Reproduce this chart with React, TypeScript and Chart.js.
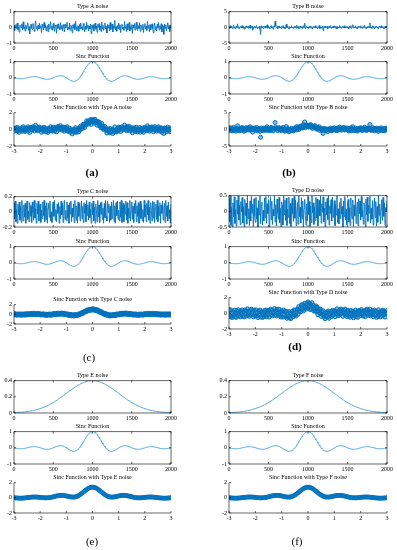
import React, { useEffect, useRef } from 'react';
import { Chart, registerables } from 'chart.js';

Chart.register(...registerables);

// ---------- data ----------
const TIME_MAX = 2000;
const TIME_TICKS_STEP = 500;
const X3_MIN = -3;
const X3_MAX = 3;
const X3_STEP = 1;

// sinc function, 241 samples across the window (x = -3 .. 3)
const SINC = [
  0, -.008, -.017, -.025, -.032, -.039, -.045, -.05, -.054, -.057,
  -.058, -.058, -.056, -.053, -.049, -.043, -.036, -.028, -.019, -.01,
  0, .01, .02, .03, .039, .047, .055, .061, .066, .069,
  .071, .071, .069, .065, .06, .053, .045, .035, .024, .012,
  0, -.013, -.025, -.038, -.049, -.06, -.07, -.078, -.084, -.089,
  -.091, -.091, -.089, -.085, -.078, -.069, -.059, -.046, -.032, -.016,
  0, .017, .034, .051, .067, .082, .095, .107, .116, .123,
  .127, .128, .126, .121, .112, .1, .085, .067, .047, .024,
  0, -.026, -.052, -.078, -.104, -.129, -.152, -.172, -.189, -.203,
  -.212, -.217, -.216, -.21, -.198, -.18, -.156, -.126, -.089, -.047,
  0, .052, .109, .17, .234, .3, .368, .436, .505, .572,
  .637, .699, .757, .81, .858, .9, .936, .963, .984, .996,
  1,
  .996, .984, .963, .936, .9, .858, .81, .757, .699, .637,
  .572, .505, .436, .368, .3, .234, .17, .109, .052, 0,
  -.047, -.089, -.126, -.156, -.18, -.198, -.21, -.216, -.217, -.212,
  -.203, -.189, -.172, -.152, -.129, -.104, -.078, -.052, -.026, 0,
  .024, .047, .067, .085, .1, .112, .121, .126, .128, .127,
  .123, .116, .107, .095, .082, .067, .051, .034, .017, 0,
  -.016, -.032, -.046, -.059, -.069, -.078, -.085, -.089, -.091, -.091,
  -.089, -.084, -.078, -.07, -.06, -.049, -.038, -.025, -.013, 0,
  .012, .024, .035, .045, .053, .06, .065, .069, .071, .071,
  .069, .066, .061, .055, .047, .039, .03, .02, .01, 0,
  -.01, -.019, -.028, -.036, -.043, -.049, -.053, -.056, -.058, -.058,
  -.057, -.054, -.05, -.045, -.039, -.032, -.025, -.017, -.008, 0,
];

// Type E / F noise (bell curve), 121 samples
const GAUSS = [
  .004, .005, .006, .007, .008, .009, .010, .012, .014, .015,
  .018, .020, .022, .025, .028, .032, .036, .040, .044, .049,
  .054, .060, .066, .072, .079, .086, .094, .102, .111, .120,
  .130, .139, .150, .160, .171, .183, .194, .206, .218, .230,
  .242, .254, .266, .278, .290, .301, .312, .323, .333, .343,
  .352, .361, .368, .375, .381, .387, .391, .395, .397, .398,
  .399,
  .398, .397, .395, .391, .387, .381, .375, .368, .361, .352,
  .343, .333, .323, .312, .301, .290, .278, .266, .254, .242,
  .230, .218, .206, .194, .183, .171, .160, .150, .139, .130,
  .120, .111, .102, .094, .086, .079, .072, .066, .060, .054,
  .049, .044, .040, .036, .032, .028, .025, .022, .020, .018,
  .015, .014, .012, .010, .009, .008, .007, .006, .005, .004,
];

// Types A-D noise, 241 samples each
const NOISE_A = [
  .12, -.21, .05, .18, -.09, .27, -.15, .02, -.31, .14,
  .08, -.04, .22, -.18, .35, -.07, .01, -.24, .16, -.12,
  .09, .29, -.19, .04, -.42, .11, .19, -.06, -.14, .24,
  .03, -.27, .13, .41, -.08, .06, -.2, .15, -.11, .26,
  -.03, .1, -.33, .2, .07, -.16, .31, -.05, .17, -.23,
  0, .12, -.28, .21, -.1, .05, .36, -.13, .08, -.19,
  .25, -.02, -.26, .14, .06, -.38, .18, -.07, .23, .02,
  -.15, .3, -.09, .11, -.22, .17, .04, -.3, .2, -.04,
  .09, .33, -.17, .01, -.12, .27, -.2, .13, .05, -.35,
  .16, -.06, .22, -.14, .39, -.01, -.21, .1, .07, -.25,
  .19, -.1, .28, -.08, .03, -.18, .24, .12, -.29, .06,
  -.13, .32, -.05, .15, -.23, .08, -.11, .21, -.4, .14,
  -.07, .17, -.24, .04, .26, -.12, .09, -.32, .18, -.01,
  .23, -.16, .07, -.27, .34, -.09, .13, -.2, .02, .28,
  -.11, .05, -.36, .19, -.04, .15, -.22, .31, -.14, .08,
  .21, -.3, .1, -.06, .44, -.17, .03, -.25, .12, -.08,
  .27, -.13, .16, -.34, .06, .2, -.1, .01, -.19, .37,
  -.05, .11, -.28, .22, -.15, .09, .3, -.23, .04, -.12,
  .18, -.4, .14, -.03, .25, -.18, .07, .32, -.09, -.21,
  .1, -.07, .29, -.26, .15, .02, -.14, .2, -.33, .06,
  .24, -.11, .08, -.2, .38, -.04, .13, -.29, .17, -.16,
  .03, .22, -.08, -.35, .11, .27, -.13, .05, -.24, .19,
  -.02, .31, -.18, .09, -.1, .23, -.3, .14, .07, -.45,
  .2, -.05, .16, -.22, .04, .29, -.12, .1, -.27, .15,
  -.06,
];

const NOISE_B = [
  .21, -.35, .48, -.12, .3, -.44, .09, .62, -.27, .15,
  -.5, .33, -.08, 1.1, -.31, .19, -.41, .06, .37, -.22,
  .52, -.16, .28, -.6, .11, -.38, .44, -.05, .25, -.29,
  .4, -.18, .7, -.33, .07, .31, -.9, .17, -.1, .36,
  -.24, .13, .55, -.4, .02, -.2, .3, -.55, -2.3, .46,
  -.14, .08, -.36, .42, -.03, .42, -.26, .18, .8, -.3,
  .34, -.09, -.45, .2, .5, -.17, .12, -.6, .29, .04,
  1.9, .39, -.11, .26, -.48, .16, .43, -.21, .07, -.37,
  .31, -.06, .58, -.28, .14, -.43, .22, 1.0, -.19, .35,
  -.04, -.5, .27, .1, -.25, .47, -.15, .05, -.39, .24,
  -.08, .38, -.3, .66, -.13, .19, -.46, .32, -.02, .41,
  -.23, .15, -.34, .53, -.1, 1.3, -.42, .09, .36, -.2,
  .12, -.33, .27, -.07, .45, -.29, .18, -.52, .04, .31,
  -.16, .49, -.24, .11, -.37, .22, -.03, .6, -.44, .16,
  .07, -.28, .35, -1.1, .24, -.12, .41, -.19, .02, .29,
  -.47, .13, .26, -.09, .54, -.31, .08, -.2, .37, -.15,
  .43, -.06, -.35, .19, -.5, .28, .1, -.24, .57, -.11,
  .23, -.4, .05, .34, -.17, .47, -.27, .14, -.03, .39,
  -.21, .09, -.45, .3, -.08, .52, -.36, .2, .85, -.26,
  .16, -.13, .42, -.32, .06, -.49, .25, -.01, .33, -.18,
  .48, -.23, .12, -.38, .27, -.05, .59, -.3, .1, -.42,
  .21, -.15, .36, -.09, 1.4, -.25, .04, -.34, .46, -.12,
  .28, -.47, .17, -.02, .4, -.2, .07, -.56, .32, .13,
  -.27, .5, -.1, .22, -.35, .15, -.43, .26, -.06, .38,
  -.19,
];

const NOISE_C = [
  .12, -.09, .14, -.13, .03, -.15, .1, -.04, .13, -.11,
  .07, -.14, .15, -.02, -.12, .09, -.07, .11, -.15, .05,
  .14, -.1, .01, -.13, .12, -.06, .08, -.14, .13, -.01,
  -.11, .15, -.08, .04, -.15, .11, -.03, .14, -.12, .06,
  .1, -.14, .02, -.09, .13, -.05, .15, -.13, .08, -.1,
  .12, -.15, .05, .11, -.07, .14, -.12, 0, -.14, .09,
  .13, -.06, .15, -.11, .03, -.13, .1, -.02, .12, -.15,
  .07, -.09, .14, -.04, .11, -.14, .06, .15, -.1, .02,
  -.12, .13, -.08, .09, -.15, .12, -.03, .14, -.13, .05,
  -.07, .1, -.14, .15, -.01, -.11, .08, -.15, .13, -.06,
  .11, -.12, .04, .14, -.09, .07, -.14, .12, -.02, .1,
  -.13, .15, -.05, .09, -.11, .13, -.08, .03, -.15, .11,
  -.04, .14, -.12, .06, -.15, .1, .02, -.13, .15, -.07,
  .09, -.14, .12, -.03, .13, -.1, .05, -.15, .11, -.08,
  .15, -.06, -.12, .14, -.01, .1, -.14, .07, -.11, .13,
  -.09, .04, .15, -.13, .08, -.15, .12, -.05, .14, -.1,
  .02, -.12, .13, -.07, .15, -.14, .06, .11, -.13, .09,
  -.03, .14, -.11, .12, -.15, .05, -.08, .15, -.12, .01,
  .13, -.1, .07, -.14, .11, -.02, .15, -.13, .08, -.06,
  .12, -.15, .04, .14, -.09, .1, -.12, .03, -.14, .15,
  -.07, .09, -.13, .11, -.04, .15, -.11, .06, -.15, .12,
  .02, -.12, .14, -.08, .13, -.14, .05, .1, -.1, .15,
  -.13, .07, -.05, .12, -.15, .09, -.02, .14, -.11, .04,
  .11, -.14, .15, -.06, .08, -.12, .13, -.09, .03, -.15,
  .1,
];

const NOISE_D = [
  .41, -.33, .48, -.45, .12, -.5, .27, -.18, .46, -.39,
  .05, -.47, .36, -.09, .49, -.28, .2, -.43, .31, -.02,
  .44, -.37, .15, -.49, .38, -.14, .26, -.41, .5, -.23,
  .08, -.46, .33, -.31, .47, -.06, .22, -.48, .4, -.16,
  -.35, .45, -.25, .11, -.5, .34, -.12, .49, -.4, .18,
  .29, -.44, .03, -.3, .43, -.2, .47, -.38, .24, -.07,
  .37, -.49, .14, .46, -.27, .32, -.42, .06, -.15, .48,
  -.34, .21, -.47, .39, -.04, -.26, .44, -.36, .1, -.5,
  .3, .19, -.43, .5, -.11, .35, -.29, .42, -.45, .07,
  -.19, .45, -.39, .25, -.48, .16, .41, -.08, -.32, .47,
  -.22, .36, -.46, .02, .28, -.41, .49, -.17, .13, -.37,
  .43, -.24, .33, -.5, .09, .38, -.13, -.44, .23, -.3,
  .46, -.1, .31, -.48, .17, -.36, .5, -.05, .27, -.42,
  .13, -.29, .44, -.21, .39, -.47, .04, .35, -.15, .48,
  -.38, .24, -.03, .46, -.33, .1, -.49, .3, -.12, .41,
  -.26, .5, -.44, .18, -.07, .37, -.31, .45, -.19, .01,
  .34, -.46, .22, -.12, .49, -.35, .08, -.4, .28, -.23,
  .42, -.09, .16, -.5, .32, -.17, .47, -.28, .06, -.43,
  .25, .38, -.34, .11, -.45, .43, -.02, -.24, .36, -.48,
  .19, -.14, .5, -.39, .07, .29, -.46, .4, -.08, .33,
  -.27, .47, -.18, .03, -.41, .26, .14, -.49, .39, -.11,
  .45, -.32, .2, -.06, .48, -.37, .1, -.25, .34, -.44,
  .09, .42, -.2, .31, -.47, .15, -.35, .5, -.13, .23,
  -.4, .06, .37, -.29, .44, -.16, .27, -.45, .12, -.01,
  .35,
];

// ---------- styling / layout ----------
const DARK = '#0072BD';
const DARK_FILL = 'rgba(0,114,189,0.45)';
const LIGHT = '#4FA6E3';
const FONT = 'Liberation Serif';
const PL = 18, PT = 5, PR = 10, PB = 11;

type Sub = {
  left: number; top: number; w: number; h: number;
  title: string;
  kind: 'line' | 'scatter';
  pts: { x: number; y: number }[];
  xmin: number; xmax: number; xstep: number;
  ymin: number; ymax: number; ystep: number;
  box: boolean; color: string; lw: number;
};

const timePts = (v: number[]) => v.map((y, i) => ({ x: (i * TIME_MAX) / (v.length - 1), y }));
// signal + noise, paired sample by sample on the common grid
const sumPts = (base: number[], add: number[]) =>
  add.map((n, j) => {
    const k = Math.round((j * (base.length - 1)) / (add.length - 1));
    return { x: X3_MIN + ((X3_MAX - X3_MIN) * j) / (add.length - 1), y: base[k] + n };
  });

const matAxes = {
  id: 'matAxes',
  afterDraw(chart: any, _args: any, opts: any) {
    const { ctx, chartArea: a, scales } = chart;
    const box = !!opts.box;
    const tl = 2;
    ctx.save();
    ctx.strokeStyle = '#000';
    ctx.lineWidth = 0.6;
    ctx.beginPath();
    if (box) {
      ctx.rect(a.left, a.top, a.right - a.left, a.bottom - a.top);
    } else {
      ctx.moveTo(a.left, a.top);
      ctx.lineTo(a.left, a.bottom);
      ctx.lineTo(a.right, a.bottom);
    }
    scales.x.ticks.forEach((t: any) => {
      const x = scales.x.getPixelForValue(t.value);
      ctx.moveTo(x, a.bottom);
      ctx.lineTo(x, a.bottom - tl);
      if (box) { ctx.moveTo(x, a.top); ctx.lineTo(x, a.top + tl); }
    });
    scales.y.ticks.forEach((t: any) => {
      const y = scales.y.getPixelForValue(t.value);
      ctx.moveTo(a.left, y);
      ctx.lineTo(a.left + tl, y);
      if (box) { ctx.moveTo(a.right, y); ctx.lineTo(a.right - tl, y); }
    });
    ctx.stroke();
    ctx.restore();
  },
};

const fmt = (v: any) => String(Math.round(Number(v) * 100) / 100);

function SubPlot({ s }: { s: Sub }) {
  const ref = useRef<HTMLCanvasElement>(null);
  useEffect(() => {
    if (!ref.current) return;
    const font = { family: FONT, size: 6 };
    const chart = new Chart(ref.current, {
      type: s.kind === 'scatter' ? 'scatter' : 'line',
      data: {
        datasets: [
          {
            data: s.pts,
            borderColor: s.color,
            borderWidth: s.lw,
            pointRadius: s.kind === 'scatter' ? 2 : 0,
            pointBorderWidth: 1,
            pointBorderColor: s.color,
            pointBackgroundColor: DARK_FILL,
            showLine: s.kind !== 'scatter',
            fill: false,
            tension: 0,
          } as any,
        ],
      },
      options: {
        animation: false,
        responsive: false,
        events: [],
        layout: { padding: { left: 0, top: PT, right: PR, bottom: 0 } },
        plugins: {
          legend: { display: false },
          tooltip: { enabled: false },
          title: { display: false },
          matAxes: { box: s.box },
        } as any,
        scales: {
          x: {
            type: 'linear',
            min: s.xmin,
            max: s.xmax,
            ticks: { stepSize: s.xstep, font, color: '#000', padding: 2, maxRotation: 0, autoSkip: false, callback: fmt },
            grid: { display: false, drawTicks: false },
            border: { display: false },
            afterFit: (sc: any) => { sc.height = PB; },
          },
          y: {
            type: 'linear',
            min: s.ymin,
            max: s.ymax,
            ticks: { stepSize: s.ystep, font, color: '#000', padding: 2, autoSkip: false, callback: fmt },
            grid: { display: false, drawTicks: false },
            border: { display: false },
            afterFit: (sc: any) => { sc.width = PL; },
          },
        },
      },
      plugins: [matAxes],
    } as any);
    return () => chart.destroy();
  }, []);
  return (
    <>
      <canvas
        ref={ref}
        width={s.w + PL + PR}
        height={s.h + PT + PB}
        style={{ position: 'absolute', left: s.left - PL, top: s.top - PT, width: s.w + PL + PR, height: s.h + PT + PB }}
      />
      <div
        style={{
          position: 'absolute', left: s.left, top: s.top - 8, width: s.w, textAlign: 'center',
          fontFamily: FONT, fontSize: 6, lineHeight: '7px', color: '#000', whiteSpace: 'nowrap',
        }}
      >
        {s.title}
      </div>
    </>
  );
}

type Panel = {
  letter: string; lx: number; ly: number; bold: boolean;
  left: number; w: number;
  name: string; noise: number[]; smoothNoise: boolean;
  t1: number; h1: number; y1: [number, number, number];
  t2: number; h2: number;
  t3: number; h3: number; y3: [number, number, number];
};

const PANELS: Panel[] = [
  { letter: '(a)', lx: 92, ly: 172, bold: true, left: 14, w: 157, name: 'A', noise: NOISE_A, smoothNoise: false,
    t1: 11, h1: 32, y1: [-1, 1, 1], t2: 61, h2: 33, t3: 112, h3: 34, y3: [-2, 2, 2] },
  { letter: '(b)', lx: 289, ly: 172, bold: true, left: 229, w: 158, name: 'B', noise: NOISE_B, smoothNoise: false,
    t1: 11, h1: 32, y1: [-5, 5, 5], t2: 61, h2: 33, t3: 112, h3: 34, y3: [-5, 5, 5] },
  { letter: '(c)', lx: 89, ly: 357, bold: false, left: 14, w: 157, name: 'C', noise: NOISE_C, smoothNoise: false,
    t1: 196, h1: 31, y1: [-0.2, 0.2, 0.2], t2: 246, h2: 33, t3: 304, h3: 20, y3: [-2, 2, 2] },
  { letter: '(d)', lx: 295, ly: 346, bold: true, left: 229, w: 158, name: 'D', noise: NOISE_D, smoothNoise: false,
    t1: 195, h1: 32, y1: [-0.5, 0.5, 0.5], t2: 246, h2: 33, t3: 297, h3: 32, y3: [-2, 2, 2] },
  { letter: '(e)', lx: 92, ly: 541, bold: false, left: 14, w: 157, name: 'E', noise: GAUSS, smoothNoise: true,
    t1: 380, h1: 33, y1: [0, 0.4, 0.2], t2: 431, h2: 33, t3: 482, h3: 31, y3: [-2, 2, 2] },
  { letter: '(f)', lx: 297, ly: 541, bold: false, left: 229, w: 158, name: 'F', noise: GAUSS, smoothNoise: true,
    t1: 380, h1: 33, y1: [0, 0.4, 0.2], t2: 431, h2: 33, t3: 482, h3: 31, y3: [-2, 2, 2] },
];

export default function App() {
  const subs: Sub[] = [];
  PANELS.forEach((p) => {
    subs.push({
      left: p.left, top: p.t1, w: p.w, h: p.h1, title: `Type ${p.name} noise`, kind: 'line',
      pts: timePts(p.noise), xmin: 0, xmax: TIME_MAX, xstep: TIME_TICKS_STEP,
      ymin: p.y1[0], ymax: p.y1[1], ystep: p.y1[2], box: true,
      color: p.smoothNoise ? LIGHT : DARK, lw: p.smoothNoise ? 1 : 0.9,
    });
    subs.push({
      left: p.left, top: p.t2, w: p.w, h: p.h2, title: 'Sinc Function', kind: 'line',
      pts: timePts(SINC), xmin: 0, xmax: TIME_MAX, xstep: TIME_TICKS_STEP,
      ymin: -1, ymax: 1, ystep: 1, box: true, color: LIGHT, lw: 1,
    });
    subs.push({
      left: p.left, top: p.t3, w: p.w, h: p.h3, title: `Sinc Function with Type ${p.name} noise`, kind: 'scatter',
      pts: sumPts(SINC, p.noise), xmin: X3_MIN, xmax: X3_MAX, xstep: X3_STEP,
      ymin: p.y3[0], ymax: p.y3[1], ystep: p.y3[2], box: false, color: DARK, lw: 1,
    });
  });
  return (
    <div style={{ position: 'absolute', left: 0, top: 0, width: 397, height: 550, background: '#fff', overflow: 'hidden' }}>
      {subs.map((s, i) => (
        <SubPlot key={i} s={s} />
      ))}
      {PANELS.map((p) => (
        <div
          key={p.letter}
          style={{
            position: 'absolute', left: p.lx - 20, top: p.ly - 7, width: 40, textAlign: 'center',
            fontFamily: FONT, fontSize: 11, lineHeight: '14px', fontWeight: p.bold ? 'bold' : 'normal', color: '#000',
          }}
        >
          {p.letter}
        </div>
      ))}
    </div>
  );
}
